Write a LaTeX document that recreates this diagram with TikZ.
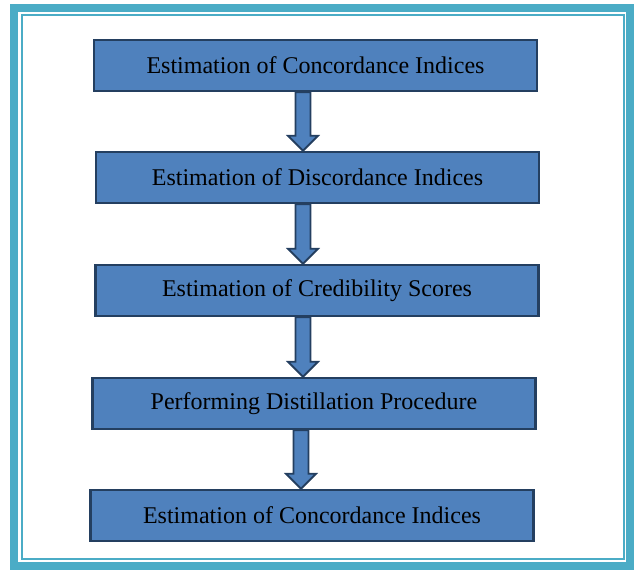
\documentclass[tikz,border=0pt]{standalone}
\usepackage{fontspec}
\setmainfont{Liberation Serif}
\usetikzlibrary{calc}
\definecolor{framecol}{HTML}{4BACC6}
\definecolor{boxfill}{HTML}{4F81BD}
\definecolor{boxline}{HTML}{243F60}

\begin{document}
\begin{tikzpicture}[x=1pt,y=-1pt,
	stepbox/.style={draw=boxline, fill=boxfill, line width=2.5pt, minimum width=443pt, minimum height=51pt, font=\fontsize{24}{28}\selectfont},
	flowarrow/.style={draw=boxline, fill=boxfill, line width=1.8pt, line join=miter}]
			\useasboundingbox (0,0) rectangle (634,570);
			% double border round the chart
			\draw[framecol, line width=8pt] (14,8) rectangle (630,566);
			\draw[framecol, line width=2pt] (22,15) rectangle (624,559);
			\node[stepbox] (b1) at (315.5,65.5) {Estimation of Concordance Indices};
			\node[stepbox] (b2) at (317.5,177.5) {Estimation of Discordance Indices};
			\node[stepbox] (b3) at (317,290.5) {Estimation of Credibility Scores};
			\node[stepbox] (b4) at (314,403.5) {Performing Distillation Procedure};
			\node[stepbox] (b5) at (312,515.5) {Estimation of Concordance Indices};
			% block arrows between the steps
			\foreach \a/\b/\ax in {b1/b2/303, b2/b3/303, b3/b4/303, b4/b5/301}
				\draw[flowarrow] let \p1=(\a.south), \p2=(\b.north) in
					({\ax pt-7.5pt},\y1) -- ({\ax pt-7.5pt},\y2+15pt) -- ({\ax pt-15pt},\y2+15pt) -- (\ax pt,\y2)
					-- ({\ax pt+15pt},\y2+15pt) -- ({\ax pt+7.5pt},\y2+15pt) -- ({\ax pt+7.5pt},\y1) -- cycle;
		\end{tikzpicture}
\end{document}
